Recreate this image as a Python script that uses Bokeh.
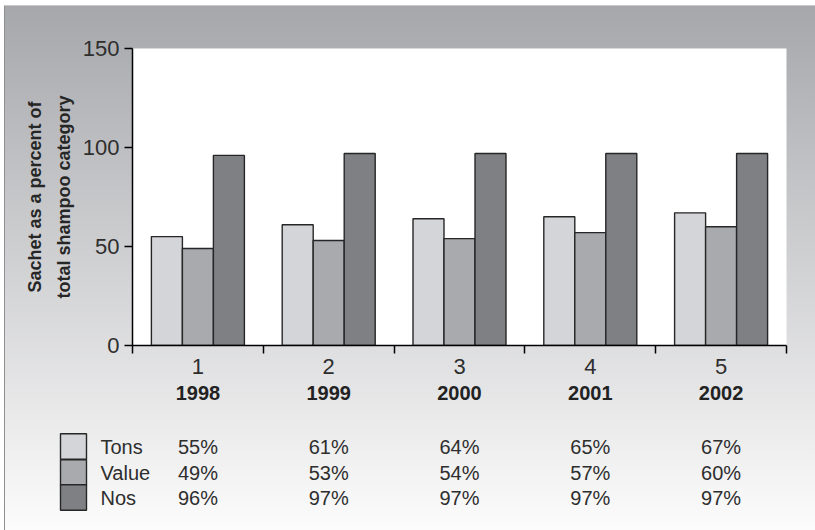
import numpy as np
from bokeh.plotting import figure
from bokeh.models import Range1d, LinearAxis, FixedTicker
from bokeh.embed import file_html
from bokeh.resources import INLINE
from bokeh.core.properties import value

# ---------------- data ----------------
years = ["1998", "1999", "2000", "2001", "2002"]
period_labels = ["1", "2", "3", "4", "5"]
series = ["Tons", "Value", "Nos"]
tons = [55, 61, 64, 65, 67]
value_share = [49, 53, 54, 57, 60]
nos = [96, 97, 97, 97, 97]
y_ticks = [0, 50, 100, 150]
y_title = "Sachet as a percent of\ntotal shampoo category"

# ---------------- style / layout ----------------
colors = ["#d4d5d8", "#a9aaae", "#7f8084"]
TEXT = "#2e2e2e"
FONT = "Liberation Sans"
W = 815
FRAME_L, FRAME_R = 132, 29
FRAME_T, FRAME_H = 48, 297
TOP_H = 410
BOT_H = 120

n = len(years)
centers = np.arange(n) + 0.5
bw = 0.237
offsets = [-bw, 0.0, bw]
values = [tons, value_share, nos]

p = figure(width=W, height=TOP_H, x_range=Range1d(0, n), y_range=Range1d(0, 150),
           output_backend="svg", toolbar_location=None,
           x_axis_location=None,
           min_border_left=FRAME_L, min_border_right=FRAME_R,
           min_border_top=FRAME_T, min_border_bottom=TOP_H - FRAME_T - FRAME_H)
p.background_fill_color = "white"
p.border_fill_alpha = 0
p.outline_line_color = None
p.grid.visible = False

for vals, off, col in zip(values, offsets, colors):
    p.vbar(x=centers + off, top=vals, width=bw, bottom=0,
           fill_color=col, line_color="#262626", line_width=1.4)

ya = p.yaxis[0]
ya.ticker = FixedTicker(ticks=y_ticks, minor_ticks=[])
ya.major_tick_out = 8
ya.major_tick_in = 0
ya.major_tick_line_color = "black"
ya.major_tick_line_width = 1.5
ya.axis_line_color = "black"
ya.axis_line_width = 1.5
ya.major_label_text_font = FONT
ya.major_label_text_font_size = "22px"
ya.major_label_text_color = TEXT
ya.major_label_standoff = 5
ya.axis_label = y_title
ya.axis_label_text_font = FONT
ya.axis_label_text_font_size = "18px"
ya.axis_label_text_font_style = "bold"
ya.axis_label_text_color = "#262626"
ya.axis_label_text_line_height = 1.45
ya.axis_label_standoff = 6

ax1 = LinearAxis(
    ticker=FixedTicker(ticks=list(centers), minor_ticks=list(range(n + 1))),
    major_label_overrides={float(c): l for c, l in zip(centers, period_labels)},
    major_tick_out=0, major_tick_in=0,
    minor_tick_out=8, minor_tick_in=0,
    minor_tick_line_color="black", minor_tick_line_width=1.5,
    axis_line_color="black", axis_line_width=1.5,
    major_label_text_font=FONT, major_label_text_font_size="22px",
    major_label_text_color=TEXT, major_label_standoff=5)
ax2 = LinearAxis(
    ticker=FixedTicker(ticks=list(centers), minor_ticks=[]),
    major_label_overrides={float(c): y for c, y in zip(centers, years)},
    major_tick_out=0, major_tick_in=0,
    major_tick_line_color=None, minor_tick_line_color=None,
    axis_line_color=None,
    major_label_text_font=FONT, major_label_text_font_size="20px",
    major_label_text_font_style="bold",
    major_label_text_color="#222222", major_label_standoff=9)
p.add_layout(ax1, "below")
p.add_layout(ax2, "below")

# ---------------- table below (separate root, x mapped to the chart frame) ----------------
unit = (W - FRAME_L - FRAME_R) / n
q = figure(width=W, height=BOT_H,
           x_range=Range1d(-FRAME_L / unit, (W - FRAME_L) / unit),
           y_range=Range1d(BOT_H, 0),
           output_backend="svg", toolbar_location=None,
           x_axis_location=None, y_axis_location=None,
           min_border_left=0, min_border_right=0, min_border_top=0, min_border_bottom=0)
q.background_fill_alpha = 0
q.border_fill_alpha = 0
q.outline_line_color = None
q.grid.visible = False

row_y = [36.0, 62.0, 87.0]
row_h = 25.5
sw_l = (60 - FRAME_L) / unit
sw_r = (86 - FRAME_L) / unit
lab_x = (100 - FRAME_L) / unit

q.quad(left=[sw_l] * 3, right=[sw_r] * 3,
       top=[r - row_h / 2 for r in row_y], bottom=[r + row_h / 2 for r in row_y],
       fill_color=colors, line_color="#262626", line_width=1.4)
q.text(x=[lab_x] * 3, y=row_y, text=series, text_align="left",
       text_baseline="middle", text_font=value(FONT), text_font_size="20px",
       text_color=TEXT)
for vals, ry in zip(values, row_y):
    q.text(x=list(centers), y=[ry] * n, text=[f"{v}%" for v in vals],
           text_align="center", text_baseline="middle", text_font=value(FONT),
           text_font_size="20px", text_color=TEXT)

grad = "linear-gradient(to bottom, #a6a7ab, #fcfcfc)"
line_left = "linear-gradient(#8f8f92,#8f8f92)"
line_top = "linear-gradient(#c8c8ca,#c8c8ca)"
p.styles = {"background": (f"{line_top} 4px 5px / 811px 1px no-repeat, "
                           f"{line_left} 4px 5px / 1px 525px no-repeat, "
                           f"{grad} 4px 5px / 811px 525px no-repeat, #ffffff")}
q.styles = {"background": (f"{line_left} 4px 0px / 1px {BOT_H}px no-repeat, "
                           f"{grad} 4px {5 - TOP_H}px / 811px 525px no-repeat, #ffffff")}

open("out.html", "w").write(file_html([p, q], INLINE))
